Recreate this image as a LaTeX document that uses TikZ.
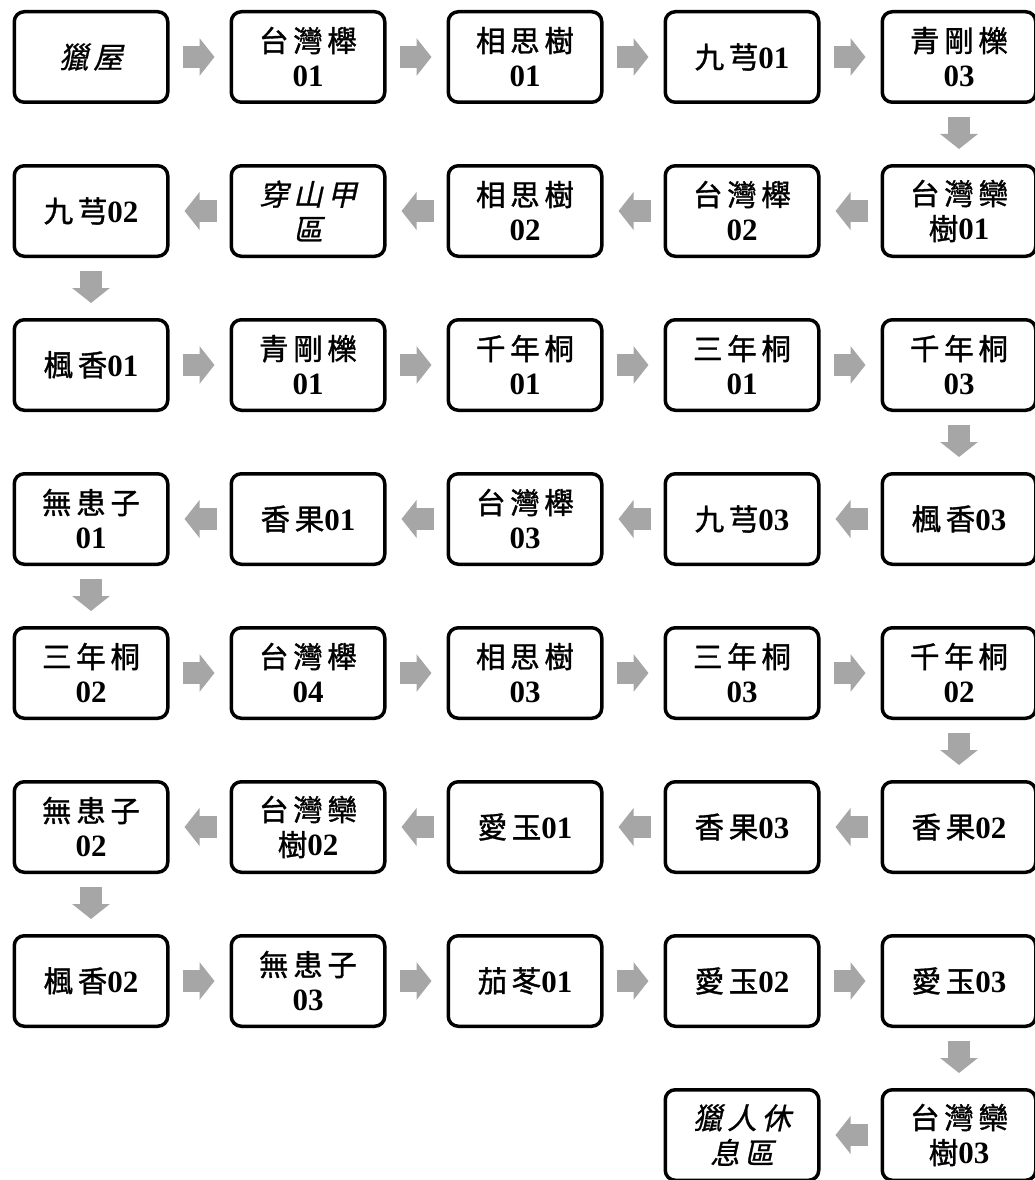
\documentclass[tikz,border=0pt]{standalone}
\usepackage{fontspec}
\setmainfont{Liberation Serif}
\newfontfamily\cjk[LetterSpace=16,FakeBold=1.2]{Noto Sans CJK TC}
\newfontfamily\cjki[LetterSpace=16,FakeSlant=0.22,FakeBold=0.8]{Noto Sans CJK TC}
\usetikzlibrary{arrows.meta}
\newcommand\C[1]{{\cjk #1}}
\newcommand\I[1]{{\cjki #1}}
\newcommand\N[1]{{\bfseries\fontsize{31}{35}\selectfont #1}}
\definecolor{arrowgray}{HTML}{A6A6A6}
\tikzset{
  box/.style={draw, line width=3.5pt, rounded corners=10pt, fill=white,
    minimum width=153.5pt, minimum height=90.5pt, inner sep=0pt, align=center,
    font=\fontsize{29.5}{35}\selectfont},
  flow/.style={draw=arrowgray, line width=22pt, line cap=butt,
    -{Triangle[length=15pt,width=37pt]}, shorten <=13pt, shorten >=15pt},
}
\begin{document}
\begin{tikzpicture}[x=1pt,y=-1pt]
\useasboundingbox (0,0) rectangle (1034,1180);
% row 1
\node[box] (n11) at (91,57)  {\I{獵屋}};
\node[box] (n12) at (308,57) {\C{台灣櫸}\\\N{01}};
\node[box] (n13) at (525,57) {\C{相思樹}\\\N{01}};
\node[box] (n14) at (742,57) {\C{九芎}\N{01}};
\node[box] (n15) at (959,57) {\C{青剛櫟}\\\N{03}};
% row 2
\node[box] (n25) at (959,211) {\C{台灣欒}\\\C{樹}\N{01}};
\node[box] (n24) at (742,211) {\C{台灣櫸}\\\N{02}};
\node[box] (n23) at (525,211) {\C{相思樹}\\\N{02}};
\node[box] (n22) at (308,211) {\I{穿山甲}\\\I{區}};
\node[box] (n21) at (91,211)  {\C{九芎}\N{02}};
% row 3
\node[box] (n31) at (91,365)  {\C{楓香}\N{01}};
\node[box] (n32) at (308,365) {\C{青剛櫟}\\\N{01}};
\node[box] (n33) at (525,365) {\C{千年桐}\\\N{01}};
\node[box] (n34) at (742,365) {\C{三年桐}\\\N{01}};
\node[box] (n35) at (959,365) {\C{千年桐}\\\N{03}};
% row 4
\node[box] (n45) at (959,519) {\C{楓香}\N{03}};
\node[box] (n44) at (742,519) {\C{九芎}\N{03}};
\node[box] (n43) at (525,519) {\C{台灣櫸}\\\N{03}};
\node[box] (n42) at (308,519) {\C{香果}\N{01}};
\node[box] (n41) at (91,519)  {\C{無患子}\\\N{01}};
% row 5
\node[box] (n51) at (91,673)  {\C{三年桐}\\\N{02}};
\node[box] (n52) at (308,673) {\C{台灣櫸}\\\N{04}};
\node[box] (n53) at (525,673) {\C{相思樹}\\\N{03}};
\node[box] (n54) at (742,673) {\C{三年桐}\\\N{03}};
\node[box] (n55) at (959,673) {\C{千年桐}\\\N{02}};
% row 6
\node[box] (n65) at (959,827) {\C{香果}\N{02}};
\node[box] (n64) at (742,827) {\C{香果}\N{03}};
\node[box] (n63) at (525,827) {\C{愛玉}\N{01}};
\node[box] (n62) at (308,827) {\C{台灣欒}\\\C{樹}\N{02}};
\node[box] (n61) at (91,827)  {\C{無患子}\\\N{02}};
% row 7
\node[box] (n71) at (91,981)  {\C{楓香}\N{02}};
\node[box] (n72) at (308,981) {\C{無患子}\\\N{03}};
\node[box] (n73) at (525,981) {\C{茄苳}\N{01}};
\node[box] (n74) at (742,981) {\C{愛玉}\N{02}};
\node[box] (n75) at (959,981) {\C{愛玉}\N{03}};
% row 8
\node[box] (n85) at (959,1135) {\C{台灣欒}\\\C{樹}\N{03}};
\node[box] (n84) at (742,1135) {\I{獵人休}\\\I{息區}};
% arrows, right
\foreach \r in {1,3,5,7}{
  \draw[flow] (n\r1.east) -- (n\r2.west);
  \draw[flow] (n\r2.east) -- (n\r3.west);
  \draw[flow] (n\r3.east) -- (n\r4.west);
  \draw[flow] (n\r4.east) -- (n\r5.west);
}
% arrows, left
\foreach \r in {2,4,6}{
  \draw[flow] (n\r5.west) -- (n\r4.east);
  \draw[flow] (n\r4.west) -- (n\r3.east);
  \draw[flow] (n\r3.west) -- (n\r2.east);
  \draw[flow] (n\r2.west) -- (n\r1.east);
}
\draw[flow] (n85.west) -- (n84.east);
% arrows, down
\draw[flow] (n15.south) -- (n25.north);
\draw[flow] (n21.south) -- (n31.north);
\draw[flow] (n35.south) -- (n45.north);
\draw[flow] (n41.south) -- (n51.north);
\draw[flow] (n55.south) -- (n65.north);
\draw[flow] (n61.south) -- (n71.north);
\draw[flow] (n75.south) -- (n85.north);
\end{tikzpicture}
\end{document}
